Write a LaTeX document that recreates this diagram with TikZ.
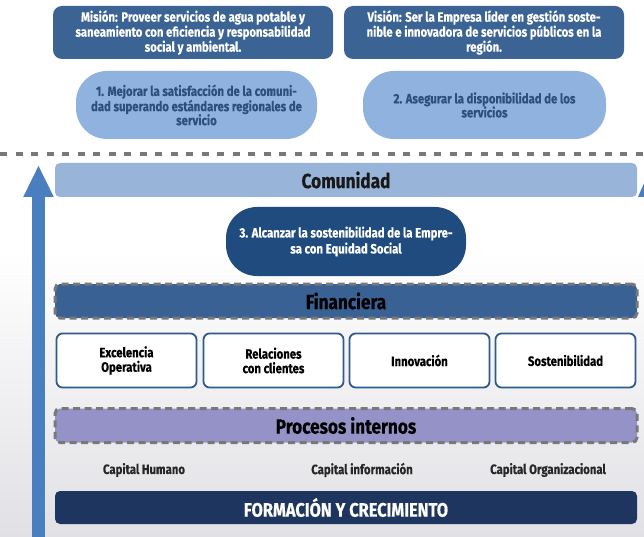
\documentclass[tikz,border=0pt]{standalone}
\usepackage{fontspec}
\setmainfont{Fira Sans}[FakeStretch=0.84, BoldFeatures={FakeBold=0.4}]
\usepackage{tikz}
\usetikzlibrary{arrows.meta,positioning,calc}
\definecolor{mvBlue}{RGB}{59,99,148}
\definecolor{pillLight}{RGB}{143,179,222}
\definecolor{pillText}{RGB}{44,79,124}
\definecolor{pillDark}{RGB}{31,75,126}
\definecolor{comBlue}{RGB}{152,180,216}
\definecolor{finBlue}{RGB}{58,97,148}
\definecolor{procLilac}{RGB}{149,146,200}
\definecolor{navyBar}{RGB}{30,54,95}
\definecolor{arrowBlue}{RGB}{74,127,191}
\definecolor{boxEdge}{RGB}{47,90,140}
\definecolor{dashGray}{RGB}{120,120,120}

\begin{document}
\begin{tikzpicture}[x=1pt,y=-1pt,
    mvbox/.style={fill=mvBlue, rounded corners=9pt, minimum width=280pt, minimum height=53pt,
      text=white, font=\bfseries\fontsize{13.5}{15}\selectfont, align=center, inner sep=1pt},
    pillbox/.style={rounded corners=31pt, minimum height=68pt, align=center,
      font=\bfseries\fontsize{13.5}{14}\selectfont, inner sep=1pt},
    bar/.style={rounded corners=5pt, minimum width=582pt, minimum height=34pt,
      font=\bfseries\fontsize{20.5}{22}\selectfont, inner sep=0pt},
    dashbar/.style={bar, draw=dashGray, line width=3pt, dash pattern=on 7pt off 4.5pt},
    areabox/.style={draw=boxEdge, line width=1.8pt, fill=white, rounded corners=6pt,
      minimum width=140pt, minimum height=54pt, align=center,
      font=\bfseries\fontsize{13.5}{14.5}\selectfont},
    capital/.style={font=\bfseries\fontsize{13.5}{14}\selectfont, text=black!85}
  ]
  \useasboundingbox (0,0) rectangle (644,537);
  % faint water background
  \shade[top color=white, bottom color=blue!8!gray!22] (0,250) rectangle (644,537);

  % mision / vision
  \node[mvbox] (mision) at (193,32.5)
    {Misión: Proveer servicios de agua potable y\\saneamiento con eficiencia y responsabilidad\\social y ambiental.};
  \node[mvbox] (vision) at (484,32.5)
    {Visión: Ser la Empresa líder en gestión soste-\\nible e innovadora de servicios públicos en la\\región.};

  \node[pillbox, fill=pillLight, text=pillText, minimum width=241pt] (obj1) at (196.5,105)
    {1. Mejorar la satisfacción de la comuni-\\dad superando estándares regionales de\\servicio};
  \node[pillbox, fill=pillLight, text=pillText, minimum width=243pt] (obj2) at (484.5,105)
    {2. Asegurar la disponibilidad de los\\servicios};

  % separator
  \coordinate (sepL) at (0,154);
  \coordinate (sepR) at (644,154);
  \draw[dashGray, line width=4pt, dash pattern=on 7pt off 8.5pt] (sepL) -- (sepR);

  % arrows
  \coordinate (arrBot) at (38.5,540);
  \coordinate (arrTop) at (38.5,165);
  \draw[arrowBlue, line width=13pt, -{Triangle[width=28pt,length=32pt]}] (arrBot) -- (arrTop);
  \fill[arrowBlue] (638,197) -- (652,165) -- (666,197) -- cycle;

  \node[bar, fill=comBlue, text=black!90] (comunidad) at (346,180) {Comunidad};

  \node[pillbox, fill=pillDark, text=white, minimum width=240pt, minimum height=69pt,
    font=\bfseries\fontsize{13.5}{16}\selectfont] (obj3) at (346,241.5)
    {3. Alcanzar la sostenibilidad de la Empre-\\sa con Equidad Social};

  \node[dashbar, fill=finBlue, text=black] (financiera) at (346,301) {Financiera};

  \node[areabox] (excel) at (126.5,360.5) {Excelencia\\Operativa};
  \node[areabox] (relac) at (273.5,360.5) {Relaciones\\con clientes};
  \node[areabox] (innov) at (419.5,360.5) {Innovación};
  \node[areabox] (soste) at (565.5,360.5) {Sostenibilidad};

  \node[dashbar, fill=procLilac, text=black] (procesos) at (346,425.5) {Procesos internos};

  \node[capital] (capHum) at (144,470) {Capital Humano};
  \node[capital] (capInf) at (362,470) {Capital información};
  \node[capital] (capOrg) at (548,470) {Capital Organizacional};

  \node[bar, fill=navyBar, text=white, minimum height=33pt,
    font=\bfseries\fontsize{19.5}{21}\selectfont] (formacion) at (346,507.5) {FORMACIÓN Y CRECIMIENTO};
\end{tikzpicture}
\end{document}
